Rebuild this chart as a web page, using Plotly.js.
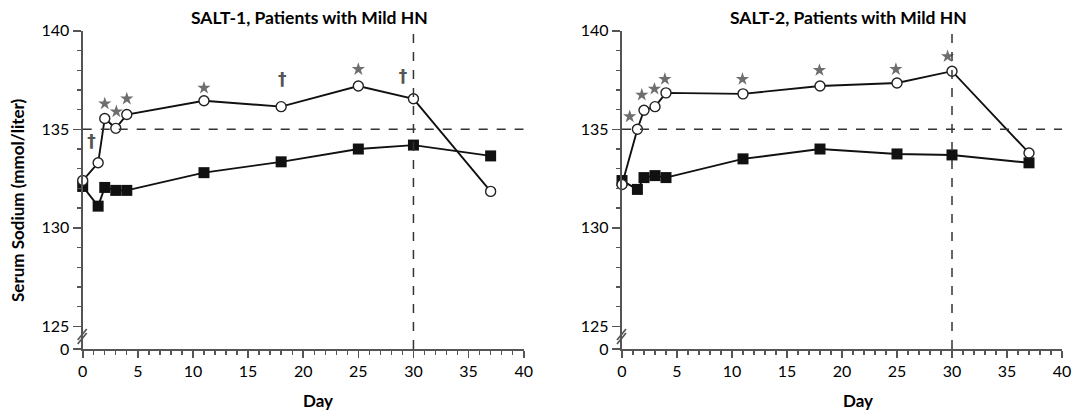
<!DOCTYPE html>
<html>
<head>
<meta charset="utf-8">
<script src="https://cdn.plot.ly/plotly-3.0.1.min.js"></script>
<style>html,body{margin:0;padding:0;background:#fff;}#chart{width:1072px;height:415px;}</style>
</head>
<body>
<div id="chart"></div>
<script>
// ---- data ----
const days = [0, 1.4, 2, 3, 4, 11, 18, 25, 30, 37];

const salt1Tolvaptan = [132.4, 133.3, 135.55, 135.05, 135.75, 136.45, 136.15, 137.2, 136.55, 131.85];
const salt1Placebo   = [132.1, 131.1, 132.05, 131.9, 131.9, 132.8, 133.35, 134.0, 134.2, 133.65];
const salt2Tolvaptan = [132.2, 135.0, 135.97, 136.15, 136.85, 136.8, 137.2, 137.35, 137.95, 133.8];
const salt2Placebo   = [132.4, 131.95, 132.55, 132.65, 132.55, 133.5, 134.0, 133.75, 133.7, 133.3];

// significance marks (asterisk: P<0.001, dagger: P<0.05) positions
const salt1StarX = [2, 3.05, 4, 11, 25];
const salt1StarY = [136.3, 135.9, 136.55, 137.1, 138.05];
const salt1DagX  = [0.8, 18.1, 29.05];
const salt1DagY  = [134.3, 137.45, 137.6];
const salt2StarX = [0.7, 1.8, 2.95, 3.9, 10.95, 17.95, 24.9, 29.6];
const salt2StarY = [135.65, 136.75, 137.05, 137.55, 137.55, 138.0, 138.05, 138.7];

const titles = ["SALT-1, Patients with Mild HN", "SALT-2, Patients with Mild HN"];
const yTitle = "Serum Sodium (mmol/liter)";
const xTitle = "Day";
const xTickVals = [0, 5, 10, 15, 20, 25, 30, 35, 40];
const yBreak = 123.85;              // axis bottom, labelled "0" (broken axis)
const yTickVals = [yBreak, 125, 130, 135, 140];
const yTickText = ["0", "125", "130", "135", "140"];
const yMinor = [126, 127, 128, 129, 131, 132, 133, 134, 136, 137, 138, 139];
const threshold = 135;
const endDay = 30;

// ---- styling ----
const FONT = "Lato, 'Open Sans', sans-serif";
const AX = "#555";
const W = 1072, H = 415;
const px = v => v / W, py = v => 1 - v / H;

function lineTrace(y, xa, ya, open) {
  return {
    x: days, y: y, xaxis: xa, yaxis: ya, type: "scatter", mode: "lines+markers",
    cliponaxis: false, showlegend: false, hoverinfo: "x+y",
    line: {color: "#111", width: 1.9},
    marker: open
      ? {symbol: "circle", size: 10, color: "#fff", line: {color: "#222", width: 1.4}}
      : {symbol: "square", size: 11, color: "#111", line: {width: 0}}
  };
}
function starTrace(x, y, xa, ya) {
  return {x: x, y: y, xaxis: xa, yaxis: ya, type: "scatter", mode: "markers", cliponaxis: false,
    showlegend: false, hoverinfo: "skip",
    marker: {symbol: "star", size: 10, color: "#6e6e6e", line: {width: 0}}};
}
function dagTrace(x, y, xa, ya) {
  return {x: x, y: y, xaxis: xa, yaxis: ya, type: "scatter", mode: "text", cliponaxis: false,
    showlegend: false, hoverinfo: "skip", text: x.map(() => "<b>†</b>"),
    textfont: {family: "'DejaVu Sans', sans-serif", size: 17, color: "#555"}};
}

const data = [
  lineTrace(salt1Placebo, "x", "y", false),
  lineTrace(salt1Tolvaptan, "x", "y", true),
  starTrace(salt1StarX, salt1StarY, "x", "y"),
  dagTrace(salt1DagX, salt1DagY, "x", "y"),
  lineTrace(salt2Placebo, "x2", "y2", false),
  lineTrace(salt2Tolvaptan, "x2", "y2", true),
  starTrace(salt2StarX, salt2StarY, "x2", "y2")
];

const yDom = [py(349), py(30.8)];
function xAxis(dom, anchor) {
  return {domain: dom, anchor: anchor, range: [0, 40], tickmode: "array", tickvals: xTickVals,
    showline: true, linecolor: AX, linewidth: 2.2, ticks: "outside", ticklen: 7, tickwidth: 1.6, tickcolor: AX,
    minor: {dtick: 1, tick0: 0, ticks: "outside", ticklen: 4, tickwidth: 1.3, tickcolor: AX},
    showgrid: false, zeroline: false, tickfont: {family: FONT, size: 16, color: "#000"}, fixedrange: true};
}
function yAxis(anchor) {
  return {domain: yDom, anchor: anchor, range: [yBreak, 140], tickmode: "array",
    tickvals: yTickVals, ticktext: yTickText,
    showline: true, linecolor: AX, linewidth: 2.2, ticks: "outside", ticklen: 8, tickwidth: 1.6, tickcolor: AX,
    minor: {tickmode: "array", tickvals: yMinor, ticks: "outside", ticklen: 4, tickwidth: 1.3, tickcolor: AX},
    showgrid: false, zeroline: false, tickfont: {family: FONT, size: 16, color: "#000"}, fixedrange: true};
}

const shapes = [];
[["x", "y"], ["x2", "y2"]].forEach(([xa, ya]) => {
  shapes.push({type: "line", xref: xa, yref: ya, x0: 0, x1: 40, y0: threshold, y1: threshold,
    line: {color: "#333", width: 1.5, dash: "dash"}});
  shapes.push({type: "line", xref: xa, yref: ya, x0: endDay, x1: endDay, y0: yBreak, y1: 140,
    line: {color: "#333", width: 1.5, dash: "dash"}});
});
// axis break marks "//"
[82.7, 622].forEach(ax => {
  [0, 4].forEach(off => {
    shapes.push({type: "line", xref: "paper", yref: "paper",
      x0: px(ax - 5), y0: py(344 - off), x1: px(ax + 4), y1: py(333 - off),
      line: {color: AX, width: 1.7}});
  });
});

const annotations = [
  {text: "<b>" + titles[0] + "</b>", x: px(309), y: py(17), font: {family: FONT, size: 17.5, color: "#000"}},
  {text: "<b>" + titles[1] + "</b>", x: px(848), y: py(17), font: {family: FONT, size: 17.5, color: "#000"}},
  {text: "<b>" + xTitle + "</b>", x: px(318), y: py(400)},
  {text: "<b>" + xTitle + "</b>", x: px(858), y: py(400)},
  {text: "<b>" + yTitle + "</b>", x: px(17), y: py(200), textangle: -90}
].map(a => Object.assign({xref: "paper", yref: "paper", showarrow: false, xanchor: "center", yanchor: "middle",
  font: {family: FONT, size: 17, color: "#000"}}, a));

const layout = {
  width: W, height: H, margin: {l: 0, r: 0, t: 0, b: 0},
  paper_bgcolor: "#fff", plot_bgcolor: "#fff", showlegend: false,
  xaxis: xAxis([px(82.7), px(523.7)], "y"),
  yaxis: yAxis("x"),
  xaxis2: xAxis([px(622), px(1062)], "y2"),
  yaxis2: yAxis("x2"),
  shapes: shapes, annotations: annotations,
  font: {family: FONT}
};

Plotly.newPlot("chart", data, layout, {displayModeBar: false, staticPlot: true});
</script>
</body>
</html>
